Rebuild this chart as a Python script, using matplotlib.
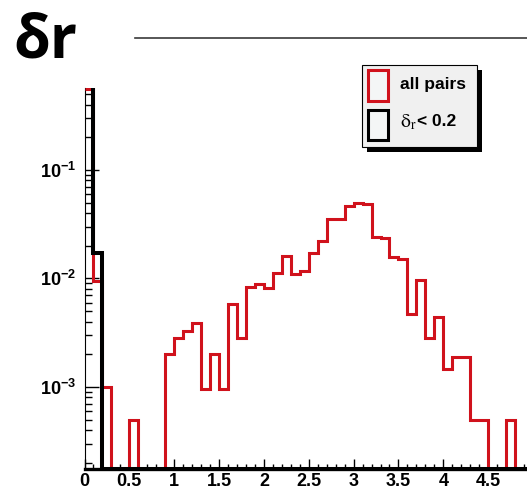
import numpy as np
import matplotlib
matplotlib.use("Agg")
import matplotlib.pyplot as plt
from matplotlib.patches import Rectangle
from matplotlib.lines import Line2D
from matplotlib.ticker import LogLocator, MultipleLocator, FuncFormatter, NullFormatter

plt.rcParams['mathtext.fontset'] = 'custom'
plt.rcParams['mathtext.rm'] = 'Liberation Sans:bold'
plt.rcParams['mathtext.bf'] = 'Liberation Sans:bold'
plt.rcParams['mathtext.it'] = 'Liberation Sans:bold'

# histogram: 50 bins of 0.1 between 0 and 5
x_min, x_max, n_bins = 0.0, 5.0, 50

all_pairs = [0.56, 0.0095, 0.001, 0, 0, 0.0005, 0, 0, 0, 0.002,
             0.0028, 0.0033, 0.0039, 0.00095, 0.002, 0.00095, 0.0058, 0.0028, 0.0083, 0.0088,
             0.0082, 0.0112, 0.016, 0.011, 0.0118, 0.017, 0.022, 0.035, 0.035, 0.047,
             0.05, 0.049, 0.024, 0.0235, 0.0158, 0.0152, 0.0047, 0.0097, 0.0028, 0.0044,
             0.00145, 0.0019, 0.0019, 0.0005, 0.0005, 0, 0, 0.0005, 0, 0]
dr_cut = [0.9, 0.0172] + [0] * 48

y_lo, y_hi = 1.75e-4, 0.57

RED = '#d0121c'
W, H = 527, 493


def fx(px):
    return px / W


def fy(py):
    return 1 - py / H


fig = plt.figure(figsize=(W / 100, H / 100), dpi=100)
ax = fig.add_axes([fx(84.5), fy(469), (533 - 84.5) / W, (469 - 88) / H])

edges = np.linspace(x_min, x_max, n_bins + 1)
# empty bins sit on the bottom of the log axis
ax.stairs(np.clip(all_pairs, y_lo, None), edges, baseline=None, color=RED, lw=2.2, zorder=3)
ax.stairs(np.clip(dr_cut, y_lo, None), edges, baseline=None, color='black', lw=2.9, zorder=4)

ax.set_yscale('log')
ax.set_xlim(x_min, x_max)
ax.set_ylim(y_lo, y_hi)

ax.xaxis.set_major_locator(MultipleLocator(0.5))
ax.xaxis.set_minor_locator(MultipleLocator(0.1))
ax.xaxis.set_major_formatter(FuncFormatter(lambda v, p: '%g' % v))
ax.yaxis.set_major_locator(LogLocator(base=10))
ax.yaxis.set_minor_locator(LogLocator(base=10, subs=np.arange(2, 10)))
ax.yaxis.set_major_formatter(FuncFormatter(lambda v, p: r'$\mathbf{10^{%d}}$' % round(np.log10(v))))
ax.yaxis.set_minor_formatter(NullFormatter())

ax.tick_params(axis='both', which='both', direction='in', top=False, right=False, width=1.0)
ax.tick_params(axis='x', which='major', length=7, pad=3)
ax.tick_params(axis='x', which='minor', length=3.5)
ax.tick_params(axis='y', which='major', length=10, pad=6)
ax.tick_params(axis='y', which='minor', length=5)
for lab in ax.get_xticklabels():
    lab.set_fontfamily('Liberation Sans')
    lab.set_fontweight('bold')
    lab.set_fontsize(13)
for lab in ax.get_yticklabels():
    lab.set_fontsize(13)

ax.spines['top'].set_visible(False)
ax.spines['right'].set_visible(False)
ax.spines['left'].set_linewidth(0.8)
ax.spines['bottom'].set_linewidth(2.4)

# title and rule
fig.text(fx(13), fy(58), 'δr', fontsize=43, fontweight='bold', family='Open Sans',
         ha='left', va='baseline')
fig.add_artist(Line2D([fx(135), 1.0], [fy(38), fy(38)], color='#3a3a3a', lw=1.2))

# legend box with drop shadow
fig.add_artist(Rectangle((fx(367), fy(152)), (477 - 362) / W, (147 - 65) / H,
                         transform=fig.transFigure, facecolor='black', edgecolor='none'))
fig.add_artist(Rectangle((fx(362), fy(147)), (477 - 362) / W, (147 - 65) / H,
                         transform=fig.transFigure, facecolor='#f0f0f0', edgecolor='black', lw=0.8))
fig.add_artist(Rectangle((fx(368), fy(101)), 20 / W, 31 / H, transform=fig.transFigure,
                         facecolor='#f4f6f6', edgecolor=RED, lw=2.2))
fig.add_artist(Rectangle((fx(368), fy(140)), 20 / W, 30 / H, transform=fig.transFigure,
                         facecolor='#f4f6f6', edgecolor='black', lw=2.2))
fig.text(fx(400), fy(84), 'all pairs', fontsize=12.5, fontweight='bold', family='Liberation Sans',
         ha='left', va='center')
fig.text(fx(400), fy(122), r'$\mathrm{\delta}_{\mathrm{r}}$', fontsize=14, math_fontfamily='stix',
         ha='left', va='center')
fig.text(fx(417), fy(122), '< 0.2', fontsize=12.5, fontweight='bold', family='Liberation Sans',
         ha='left', va='center')

fig.savefig('out.png', dpi=100)
